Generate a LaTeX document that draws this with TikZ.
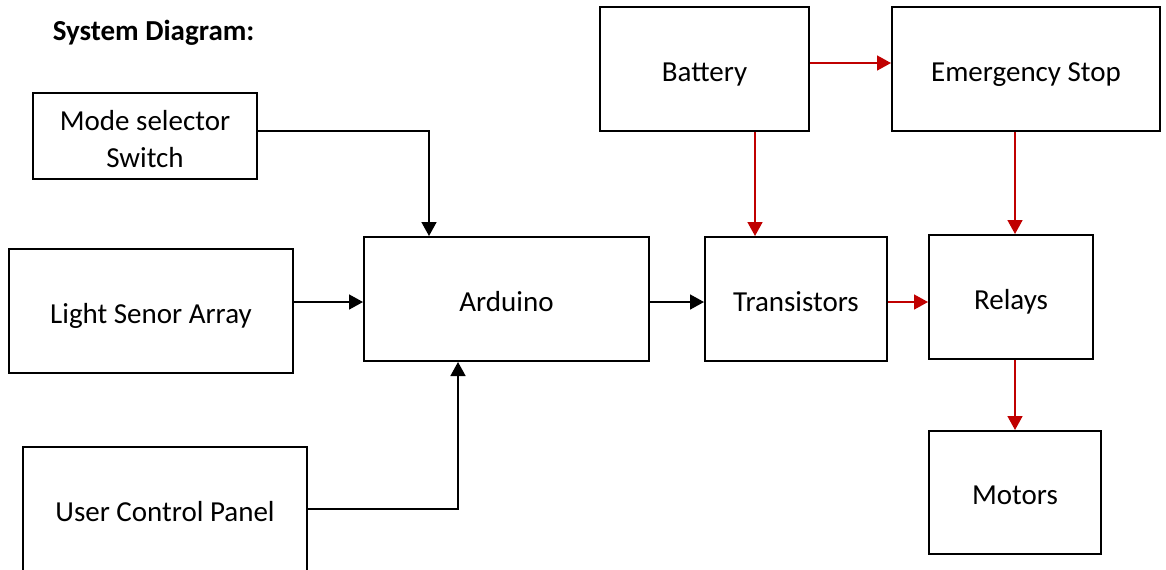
\documentclass[tikz,border=0pt]{standalone}
\usepackage{fontspec}
\setmainfont{Carlito}
\usetikzlibrary{arrows.meta, positioning, calc}
\definecolor{wirered}{RGB}{192,0,0}

\begin{document}
\begin{tikzpicture}[
    x=0.5pt, y=-0.5pt,
    line width=0.8pt,
    block/.style={draw, line width=1pt, inner sep=0pt, align=center, font=\fontsize{14.5}{18.5}\selectfont},
    oneline/.style={block, text height=12pt, text depth=0pt},
    power/.style={->, color=wirered},
    >={Triangle[length=7pt, width=7.5pt]}
]
    \useasboundingbox (0,0) rectangle (1166,569);
    \clip (0,0) rectangle (1166,569);

    \node[font=\fontsize{14.5}{17}\selectfont\bfseries, anchor=west, inner sep=0pt] (title) at (52,33) {System Diagram:};

    \node[block, minimum width=112pt, minimum height=43pt, text height=32pt] (mode) at (145,136) {Mode selector\\Switch};
    \node[oneline, minimum width=142pt, minimum height=62pt] (light) at (151,311) {Light Senor Array};
    \node[oneline, minimum width=142pt, minimum height=62pt] (user) at (165,509) {User Control Panel};
    \node[oneline, minimum width=142.5pt, minimum height=62pt] (ard) at (506.5,299) {Arduino};

    \node[oneline, minimum width=104.5pt, minimum height=62pt] (bat) at (704.5,69) {Battery};
    \node[oneline, minimum width=134pt, minimum height=62pt] (estop) at (1026,69) {Emergency Stop};
    \node[oneline, minimum width=91pt, minimum height=62pt] (trans) at (796,299) {Transistors};
    \node[oneline, minimum width=82pt, minimum height=62pt] (relay) at (1011,297) {Relays};
    \node[oneline, minimum width=86pt, minimum height=61.5pt] (motor) at (1015,492.5) {Motors};

    % signal side
    \coordinate (ardtop) at ($(ard.north)+(-77.5,0)$);
    \coordinate (ardbot) at ($(ard.south)+(-48.5,0)$);
    \coordinate (ardin) at ($(ard.west)+(0,3)$);
    \draw[->] ([yshift=2.5pt]mode.east) -| (ardtop);
    \draw[->] (light.east |- ardin) -- (ardin);
    \draw[->] (user.east) -| (ardbot);
    \draw[->] ([yshift=-1.5pt]ard.east) -- ([yshift=-1.5pt]trans.west);

    % power side
    \coordinate (transtop) at ($(trans.north)+(-41,0)$);
    \coordinate (relaytop) at ($(relay.north)+(4,0)$);
    \draw[power] ([yshift=3pt]bat.east) -- ([yshift=3pt]estop.west);
    \draw[power] (bat.south -| transtop) -- (transtop);
    \draw[power] (estop.south -| relaytop) -- (relaytop);
    \draw[power] ([yshift=-1.5pt]trans.east) -- ([yshift=-1.5pt]trans.east -| relay.west);
    \draw[power] ($(relay.south)+(4,0)$) -- (motor.north);
\end{tikzpicture}
\end{document}
